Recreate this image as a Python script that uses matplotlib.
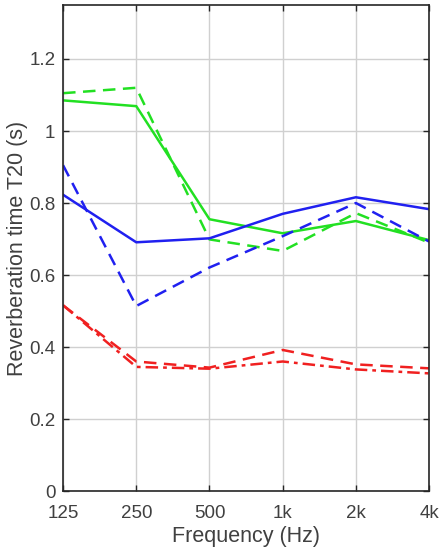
import numpy as np
from matplotlib import pyplot as plt

plt.rcParams["font.family"] = ["Liberation Sans", "DejaVu Sans"]

bands = ["125", "250", "500", "1k", "2k", "4k"]

green_solid = [1.085, 1.069, 0.755, 0.716, 0.750, 0.697]
green_dashed = [1.105, 1.120, 0.699, 0.667, 0.772, 0.690]
blue_solid = [0.823, 0.691, 0.702, 0.770, 0.816, 0.783]
blue_dashed = [0.905, 0.514, 0.621, 0.708, 0.800, 0.693]
red_dashed = [0.516, 0.360, 0.343, 0.392, 0.352, 0.341]
red_dashdot = [0.516, 0.345, 0.340, 0.360, 0.338, 0.327]

x = np.arange(len(bands))
text_color = "#404040"

fig = plt.figure(figsize=(4.41, 5.5), dpi=100)
ax = fig.add_axes([0.143, 0.107, 0.830, 0.884])

ax.plot(x, green_solid, color="#22e022", linewidth=1.8)
ax.plot(x, green_dashed, color="#22e022", linewidth=1.8, linestyle=(0, (5, 3)))
ax.plot(x, blue_solid, color="#2020f0", linewidth=1.8)
ax.plot(x, blue_dashed, color="#2020f0", linewidth=1.8, linestyle=(0, (5, 3)))
ax.plot(x, red_dashed, color="#f02020", linewidth=1.8, linestyle=(0, (5, 3)))
ax.plot(x, red_dashdot, color="#f02020", linewidth=1.8, linestyle=(0, (5, 2, 1.5, 2)))

ax.set_xlim(0, len(bands) - 1)
ax.set_ylim(0, 1.35)
ax.set_xticks(x)
ax.set_xticklabels(bands)
ax.set_yticks([0, 0.2, 0.4, 0.6, 0.8, 1.0, 1.2])
ax.set_yticklabels(["0", "0.2", "0.4", "0.6", "0.8", "1", "1.2"])

ax.grid(True, color="#d0d0d0", linewidth=1.0)
ax.set_axisbelow(True)
ax.tick_params(direction="in", length=4, width=1, colors="#262626",
               labelcolor=text_color, labelsize=13.5, top=True, right=True)
ax.tick_params(axis="x", pad=10)
ax.tick_params(axis="y", pad=5.5)
for s in ax.spines.values():
    s.set_color("#262626")
    s.set_linewidth(1.2)

ax.set_xlabel("Frequency (Hz)", fontsize=15.5, color=text_color, labelpad=3)
ax.set_ylabel("Reverberation time T20 (s)", fontsize=15.5, color=text_color, labelpad=1)

fig.savefig("out.png", dpi=100)
